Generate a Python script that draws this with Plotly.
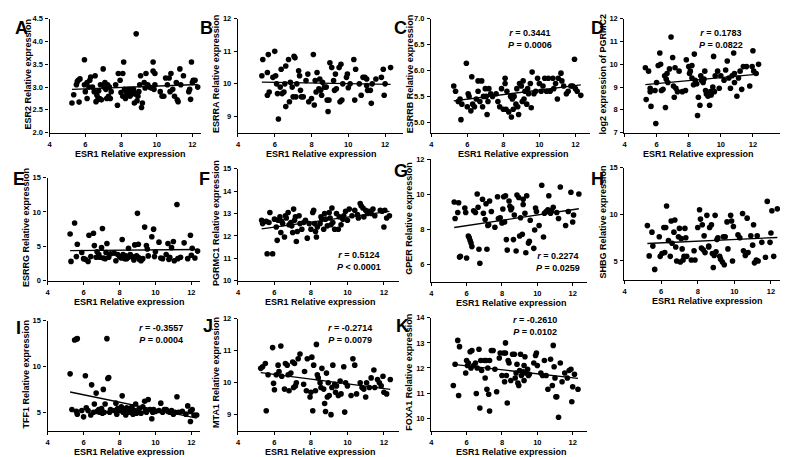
import numpy as np
import plotly.graph_objects as go

W, H = 788, 457

# ---------------- data ----------------
A_x = [5.25,5.35,5.5,5.55,5.6,5.65,5.7,5.95,5.95,6.0,6.1,6.1,6.2,6.25,6.3,6.4,6.5,6.55,6.6,6.65,6.7,6.75,6.8,6.85,6.9,7.0,7.05,7.1,7.15,7.2,7.25,7.3,7.35,7.4,7.45,7.7,7.8,7.85,7.95,8.0,8.1,8.1,8.15,8.2,8.25,8.3,8.35,8.4,8.45,8.5,8.55,8.6,8.65,8.7,8.75,8.8,8.85,8.9,8.95,9.0,9.05,9.1,9.15,9.2,9.3,9.35,9.4,9.5,9.6,9.7,9.8,9.8,9.85,9.9,9.9,10.2,10.3,10.4,10.5,10.6,10.7,10.75,10.8,10.9,11.0,11.1,11.15,11.2,11.3,11.35,11.5,11.8,11.85,11.9,11.95,12.0,12.05,12.15,12.3]
A_y = [2.65,2.83,3.05,3.12,3.15,2.67,3.18,3.6,3.05,2.9,3.1,2.75,3.0,3.15,3.22,3.0,2.9,3.25,2.68,2.82,2.72,2.92,2.75,3.05,2.72,3.4,3.0,3.1,2.95,2.75,3.05,2.8,3.0,2.75,2.9,3.05,2.6,3.3,3.15,2.88,3.3,2.8,3.55,2.95,2.75,2.9,2.85,2.95,2.9,2.8,2.95,2.85,2.9,2.95,2.65,2.85,4.17,2.7,2.8,2.9,3.05,3.25,2.55,2.65,3.1,2.98,3.3,3.05,3.0,2.98,3.55,3.35,2.95,3.3,3.05,2.9,2.8,2.8,3.2,3.05,3.2,2.9,3.3,2.95,2.8,3.1,2.72,2.68,3.4,3.05,3.25,2.9,2.95,2.73,3.55,3.1,3.15,3.15,3.0]

B_x = [5.3,5.35,5.6,5.6,5.65,5.7,5.9,6.0,6.05,6.1,6.15,6.2,6.3,6.35,6.4,6.5,6.55,6.6,6.6,6.75,6.8,6.85,6.95,7.0,7.05,7.1,7.15,7.2,7.3,7.35,7.4,7.45,7.55,7.7,7.8,7.85,8.0,8.1,8.15,8.2,8.25,8.3,8.4,8.5,8.55,8.6,8.7,8.8,8.85,8.9,8.95,9.0,9.1,9.2,9.25,9.3,9.35,9.5,9.55,9.6,9.65,9.7,9.9,9.95,10.0,10.1,10.3,10.35,10.4,10.6,10.7,10.8,10.9,11.0,11.05,11.2,11.25,11.3,11.5,11.8,11.9,11.95,12.0,12.3,11.0,8.45]
B_y = [10.25,10.75,10.35,9.65,10.9,9.75,10.2,11.0,10.25,10.0,9.7,8.92,9.9,10.45,9.7,9.75,10.0,10.55,9.3,10.75,9.45,10.05,9.9,9.6,10.85,10.8,9.6,10.0,10.4,10.25,9.8,9.6,9.6,10.1,10.3,9.45,9.55,10.9,9.35,10.1,9.75,10.35,9.85,9.8,9.65,10.05,9.9,9.9,9.5,9.15,9.5,10.65,10.5,10.1,9.8,10.3,9.85,10.5,9.45,10.6,9.5,10.0,10.2,10.3,9.88,10.0,10.75,9.5,10.45,10.0,9.65,10.2,10.2,10.15,9.8,9.8,9.4,10.0,10.15,10.2,10.45,9.65,10.0,10.5,9.95,10.15]

C_x = [5.25,5.35,5.5,5.6,5.65,5.7,5.95,6.0,6.05,6.1,6.2,6.25,6.3,6.4,6.5,6.6,6.6,6.7,6.8,6.85,6.9,7.0,7.05,7.1,7.15,7.2,7.3,7.4,7.6,7.7,7.8,7.9,8.0,8.1,8.1,8.15,8.2,8.3,8.4,8.45,8.5,8.55,8.6,8.7,8.75,8.8,8.85,8.9,9.0,9.05,9.1,9.15,9.2,9.3,9.4,9.5,9.55,9.6,9.7,9.8,9.9,10.0,10.2,10.3,10.4,10.5,10.6,10.75,10.8,10.9,11.0,11.05,11.2,11.25,11.35,11.5,11.6,11.75,11.85,11.95,12.0,12.1,12.3,10.1,9.35]
C_y = [5.7,5.6,5.4,5.45,5.05,5.35,6.14,5.3,5.55,5.5,5.22,5.88,5.35,5.3,5.45,5.6,5.8,5.4,5.8,5.3,5.5,5.65,5.5,5.15,5.4,5.65,5.55,5.5,5.55,5.4,5.3,5.65,5.25,5.85,5.75,5.25,5.6,5.2,5.5,5.1,5.45,5.25,5.5,5.35,5.65,5.3,5.15,5.75,5.7,5.4,5.8,5.45,5.6,5.35,5.55,5.75,5.28,5.97,5.55,5.6,5.85,5.75,5.7,5.85,5.6,5.85,5.6,5.85,5.65,5.75,5.45,5.85,5.95,5.8,5.7,5.55,5.6,5.7,5.7,6.22,5.65,5.6,5.52,5.6,5.65]

D_x = [5.3,5.35,5.5,5.6,5.6,5.65,5.9,5.95,6.0,6.1,6.2,6.25,6.3,6.4,6.5,6.55,6.6,6.65,6.7,6.8,6.9,7.0,7.05,7.1,7.15,7.2,7.3,7.4,7.6,7.8,7.85,8.0,8.05,8.1,8.2,8.3,8.35,8.4,8.5,8.55,8.6,8.7,8.75,8.8,8.9,8.95,9.0,9.05,9.1,9.2,9.3,9.35,9.4,9.5,9.55,9.65,9.8,9.9,10.0,10.2,10.3,10.4,10.5,10.6,10.7,10.8,10.85,11.0,11.1,11.2,11.3,11.4,11.6,11.8,11.95,12.0,12.05,12.2,12.35,9.6,8.2,10.85]
D_y = [9.85,8.45,9.7,8.95,8.8,8.15,8.85,7.4,9.2,9.95,10.5,10.0,8.85,8.9,9.5,8.1,9.35,9.6,9.2,9.8,11.2,10.3,9.05,8.55,9.85,8.95,8.8,9.7,8.8,8.85,10.2,9.9,9.6,9.7,9.4,9.1,10.45,9.3,9.15,7.75,8.55,8.2,9.5,9.3,9.2,9.35,9.7,8.85,8.7,8.6,8.2,8.8,8.65,9.0,10.35,9.5,9.7,8.95,9.5,9.3,9.75,10.15,9.4,8.95,9.5,10.5,9.2,8.6,9.4,9.7,8.9,9.9,9.9,9.05,9.9,10.6,9.7,9.6,10.0,8.8,9.95,9.6]

E_x = [5.25,5.3,5.5,5.6,5.65,5.9,6.0,6.1,6.25,6.3,6.4,6.55,6.6,6.7,6.75,6.85,6.9,7.0,7.05,7.1,7.2,7.25,7.3,7.4,7.7,7.8,7.9,8.0,8.1,8.15,8.2,8.3,8.35,8.4,8.5,8.5,8.6,8.7,8.8,8.85,9.0,9.05,9.1,9.2,9.3,9.4,9.5,9.55,9.6,9.8,9.9,9.95,10.0,10.2,10.4,10.6,10.7,10.75,10.8,10.9,11.0,11.05,11.2,11.25,11.4,11.6,11.8,11.95,12.0,12.05,12.2,12.35,9.05,8.95,7.5,10.3]
E_y = [6.8,2.8,8.4,3.5,5.3,4.1,3.2,3.1,2.8,6.6,3.5,6.9,5.1,3.4,4.2,3.8,3.4,4.8,7.6,3.3,3.2,4.1,5.4,3.4,4.0,2.9,3.8,3.5,3.3,6.0,3.8,3.2,3.6,3.2,3.4,4.7,3.8,3.5,3.0,5.2,9.8,5.3,3.1,2.9,3.2,7.8,5.1,4.6,3.6,6.4,7.5,3.5,4.2,5.6,3.2,3.8,5.4,3.1,3.4,4.8,5.7,2.9,11.1,3.2,3.4,5.5,3.2,6.6,3.7,4.7,3.3,4.3,3.4,3.6,3.9,3.3]

F_x = [5.3,5.35,5.55,5.6,5.7,5.75,5.9,6.0,6.1,6.15,6.2,6.3,6.35,6.45,6.55,6.6,6.65,6.75,6.8,6.9,6.95,7.0,7.05,7.1,7.2,7.25,7.35,7.4,7.5,7.6,7.7,7.8,7.9,8.0,8.1,8.15,8.2,8.25,8.3,8.35,8.5,8.55,8.6,8.7,8.8,8.9,9.0,9.05,9.1,9.15,9.2,9.3,9.4,9.5,9.55,9.65,9.8,9.9,10.0,10.1,10.25,10.4,10.55,10.7,10.75,10.85,10.9,11.0,11.1,11.2,11.3,11.4,11.5,11.8,11.9,12.0,12.05,12.15,12.3,10.6,9.75,8.75,7.15,6.4]
F_y = [12.7,12.55,12.65,11.2,12.6,13.05,11.2,12.75,12.4,11.8,12.7,12.85,12.15,12.55,11.95,12.9,12.8,13.05,12.5,12.6,12.45,12.15,13.2,12.7,11.75,12.2,12.9,12.55,12.3,12.6,12.7,11.9,12.55,12.3,13.05,13.15,12.55,12.2,11.95,12.4,12.55,12.85,12.75,12.3,12.75,12.45,13.05,12.8,12.5,13.25,12.6,12.3,13.0,12.3,12.85,12.5,12.9,13.1,12.7,13.2,12.9,13.15,12.95,13.45,13.35,13.25,12.85,13.15,13.0,13.1,13.0,13.2,12.9,13.15,13.1,12.4,13.15,12.8,12.9,12.8,12.75,13.0,12.85,12.65]

G_x = [5.3,5.35,5.5,5.55,5.6,5.65,5.9,5.95,6.0,6.1,6.15,6.2,6.25,6.3,6.4,6.5,6.6,6.65,6.7,6.75,6.9,6.95,7.05,7.1,7.15,7.2,7.25,7.3,7.4,7.6,7.75,7.8,7.9,8.0,8.05,8.1,8.2,8.25,8.3,8.4,8.45,8.5,8.55,8.65,8.7,8.8,8.85,8.95,9.0,9.05,9.15,9.2,9.3,9.35,9.4,9.5,9.55,9.6,9.8,9.85,9.9,9.95,10.1,10.25,10.35,10.4,10.6,10.65,10.75,10.8,10.9,11.1,11.2,11.3,11.6,11.75,11.9,12.0,12.05,12.35,9.2,8.15,10.5]
G_y = [9.55,8.6,8.95,9.5,6.4,6.45,9.2,8.95,6.35,7.6,7.5,7.35,7.2,7.0,9.05,8.95,10.0,9.25,6.85,6.05,9.7,8.9,8.55,9.45,6.85,8.2,8.25,9.6,9.0,8.1,9.85,8.6,8.65,8.35,9.15,9.85,9.9,7.4,6.8,9.6,9.3,9.1,9.2,7.4,8.8,6.75,9.95,9.8,7.6,8.65,7.7,9.4,8.9,6.65,9.9,7.2,7.3,8.5,6.9,7.95,9.2,9.0,8.2,10.5,7.55,8.9,9.1,9.9,8.9,9.05,9.25,8.95,8.6,10.4,8.2,9.0,10.1,8.4,8.8,10.0,9.7,8.4,9.0]

H_x = [5.25,5.35,5.5,5.55,5.65,5.9,5.95,6.05,6.15,6.2,6.25,6.3,6.4,6.5,6.55,6.6,6.7,6.75,6.8,6.85,6.95,7.0,7.05,7.1,7.15,7.2,7.25,7.3,7.35,7.4,7.65,7.8,7.85,8.0,8.1,8.15,8.2,8.25,8.3,8.35,8.4,8.5,8.6,8.65,8.75,8.8,8.85,8.9,8.95,9.0,9.05,9.1,9.2,9.25,9.35,9.45,9.5,9.6,9.65,9.8,9.85,9.9,9.95,10.2,10.3,10.45,10.5,10.6,10.7,10.75,10.9,11.0,11.05,11.1,11.2,11.25,11.3,11.5,11.7,11.8,11.95,12.0,12.05,12.15,12.35,8.6,9.4]
H_y = [8.8,5.55,8.1,6.6,4.1,7.6,5.5,5.8,8.6,5.9,8.6,10.9,7.2,5.5,9.3,6.9,8.1,9.4,6.5,5.0,7.6,8.5,4.9,7.4,6.3,5.1,5.5,8.5,7.5,5.5,5.1,6.1,5.1,8.6,10.5,9.5,6.4,8.9,6.2,7.7,5.9,9.9,6.6,8.6,8.9,5.8,4.3,5.6,9.9,6.0,7.3,7.5,5.5,5.2,4.9,4.6,7.6,9.2,6.3,9.9,9.3,5.0,8.7,7.8,7.5,10.1,6.1,5.6,9.6,5.9,7.7,6.7,8.9,4.8,5.1,7.7,5.0,7.0,5.4,11.4,7.0,8.0,10.4,5.5,10.6,6.5,7.6]

I_x = [5.25,5.35,5.5,5.6,5.65,5.6,5.65,5.9,6.0,6.1,6.15,6.25,6.4,6.45,6.55,6.6,6.7,6.75,6.85,6.9,7.0,7.05,7.1,7.15,7.2,7.3,7.35,7.4,7.45,7.5,7.7,7.8,7.85,7.9,8.0,8.1,8.15,8.2,8.3,8.35,8.4,8.5,8.55,8.6,8.7,8.75,8.85,8.9,8.95,9.0,9.1,9.2,9.3,9.4,9.45,9.5,9.6,9.7,9.8,9.85,9.9,10.0,10.2,10.3,10.4,10.6,10.7,10.8,10.9,11.0,11.1,11.2,11.3,11.5,11.7,11.8,11.95,12.05,12.15,12.3,11.95,10.5]
I_y = [9.2,5.3,12.9,13.0,13.05,5.1,4.8,5.2,4.5,9.0,5.5,5.2,4.7,8.0,5.0,5.9,7.1,5.1,5.3,5.0,5.4,4.9,7.5,5.0,5.9,13.05,8.7,8.8,5.0,5.3,5.2,6.0,4.8,5.4,5.2,5.6,6.8,5.0,5.3,4.7,5.5,5.2,5.0,5.4,5.6,4.8,5.2,5.9,4.9,5.1,5.4,4.9,5.6,6.2,5.2,5.0,6.4,5.3,4.3,5.0,5.3,5.1,5.2,6.0,5.0,5.3,5.1,5.0,5.2,4.8,5.0,6.7,5.0,5.1,4.8,5.7,4.0,5.3,4.7,4.7,5.1,5.3]

J_x = [5.25,5.35,5.5,5.55,5.65,5.9,5.95,6.0,6.1,6.2,6.25,6.35,6.4,6.55,6.6,6.7,6.75,6.8,6.9,7.0,7.05,7.1,7.15,7.2,7.3,7.4,7.6,7.75,7.8,7.95,8.0,8.05,8.1,8.15,8.25,8.3,8.35,8.4,8.5,8.55,8.6,8.7,8.75,8.8,8.85,8.9,8.95,9.0,9.1,9.15,9.2,9.3,9.4,9.5,9.6,9.65,9.8,9.85,9.9,10.0,10.2,10.3,10.4,10.5,10.7,10.8,10.9,11.0,11.05,11.2,11.3,11.45,11.5,11.65,11.75,11.85,11.95,12.0,12.15,12.35,7.65,9.35]
J_y = [10.45,10.5,10.6,9.12,10.25,11.1,9.98,9.78,10.25,10.55,10.35,11.15,10.2,9.8,10.6,10.55,10.25,9.75,10.3,10.65,9.85,10.6,9.9,10.0,10.75,10.9,9.95,9.75,10.75,9.55,9.7,10.8,9.12,10.55,9.75,11.2,10.25,10.15,10.0,9.85,10.45,9.8,9.35,9.1,10.3,9.55,10.0,9.6,9.0,9.85,10.55,9.95,9.9,9.6,10.05,9.65,10.5,9.08,10.0,9.9,9.6,10.75,10.55,9.65,10.0,9.85,9.8,9.55,10.0,9.85,10.15,10.4,9.85,10.1,10.0,9.9,10.2,9.7,9.65,10.1,10.35,9.7]

K_x = [5.25,5.35,5.5,5.55,5.6,5.95,6.0,6.05,6.1,6.2,6.25,6.3,6.4,6.5,6.55,6.6,6.7,6.75,6.8,6.85,7.0,7.05,7.1,7.15,7.2,7.25,7.3,7.3,7.4,7.5,7.6,7.7,7.85,7.9,8.0,8.1,8.15,8.2,8.25,8.3,8.35,8.4,8.5,8.6,8.7,8.75,8.8,8.85,8.9,8.95,9.0,9.05,9.1,9.2,9.25,9.3,9.35,9.45,9.5,9.55,9.8,9.9,9.95,10.0,10.2,10.3,10.4,10.5,10.6,10.75,10.85,10.9,10.95,11.0,11.05,11.1,11.2,11.3,11.4,11.55,11.7,11.8,11.9,11.95,12.0,12.1,12.3,9.25,8.2]
K_y = [11.3,12.15,13.1,10.9,12.85,11.8,12.3,12.1,12.2,12.65,12.0,12.7,12.1,12.2,10.98,12.0,12.75,10.4,12.3,11.9,12.3,11.6,12.3,11.15,12.0,10.95,12.3,10.28,12.7,12.7,11.95,11.05,12.4,12.6,11.7,12.6,11.45,13.0,11.7,10.6,12.3,12.2,11.5,12.55,12.55,11.6,11.8,12.15,11.4,11.3,11.9,12.55,11.7,11.85,11.5,12.45,11.8,11.95,11.7,11.75,12.2,12.5,12.6,12.1,11.8,11.7,12.3,11.7,11.15,12.35,11.3,12.9,12.05,11.6,10.85,10.85,10.03,12.2,11.45,11.8,11.6,11.9,11.95,10.65,11.25,11.75,11.15,12.1,12.6]

y_titles = {
    "A": "ESR2 Relative expression", "B": "ESRRA Relative expression",
    "C": "ESRRB Relative expression", "D": "log2 expression of PGRMC2",
    "E": "ESRRG Relative expression", "F": "PGRMC1 Relative expression",
    "G": "GPER Relative expression", "H": "SHBG Relative expression",
    "I": "TFF1 Relative expression", "J": "MTA1 Relative expression",
    "K": "FOXA1 Relative expression",
}
x_title = "ESR1 Relative expression"
stats = {"C": ("0.3441", "= 0.0006"), "D": ("0.1783", "= 0.0822"),
         "F": ("0.5124", "< 0.0001"), "G": ("0.2274", "= 0.0259"),
         "I": ("-0.3557", "= 0.0004"), "J": ("-0.2714", "= 0.0079"),
         "K": ("-0.2610", "= 0.0102")}
x_ticks = [4, 6, 8, 10, 12]
x_ticks_D = [4, 6, 8, 10, 12, 14]
y_ticks = {"A": [2.0, 2.5, 3.0, 3.5, 4.0, 4.5], "B": [9, 10, 11, 12],
           "C": [5.0, 5.5, 6.0, 6.5, 7.0], "D": [7, 8, 9, 10, 11, 12],
           "E": [0, 5, 10, 15], "F": [10, 11, 12, 13, 14, 15],
           "G": [6, 8, 10, 12], "H": [5, 10, 15], "I": [5, 10, 15],
           "J": [9, 10, 11, 12], "K": [10, 11, 12, 13, 14]}

# ---------------- layout (pixels) ----------------
panels = {
    "A": dict(xd=(40, 193), yd=(7, 123), xr=[4, 12.5], yr=[2.0, 4.5], lp=(3, 4)),
    "B": dict(xd=(230, 397), yd=(7, 123), xr=[4, 13], yr=[8.5, 12], lp=(190, 4)),
    "C": dict(xd=(425, 585), yd=(7, 123), xr=[4, 12.8], yr=[4.8, 7.0], lp=(385, 4), sp=(525, 28)),
    "D": dict(xd=(620, 782), yd=(7, 123), xr=[4, 14], yr=[7, 12], lp=(584, 4), sp=(717, 28)),
    "E": dict(xd=(38, 192), yd=(169, 274), xr=[4, 12.5], yr=[0, 15], lp=(1, 158)),
    "F": dict(xd=(230, 392), yd=(160, 274), xr=[4, 12.8], yr=[10, 15], lp=(189, 158), sp=(352, 254)),
    "G": dict(xd=(425, 582), yd=(150, 275), xr=[4, 12.8], yr=[5, 12], lp=(385, 150), sp=(553, 255)),
    "H": dict(xd=(620, 777), yd=(159, 273), xr=[4, 12.5], yr=[3, 15], lp=(584, 158)),
    "I": dict(xd=(38, 192), yd=(315, 427), xr=[4, 12.5], yr=[3, 15], lp=(4, 310), sp=(152, 328)),
    "J": dict(xd=(230, 392), yd=(313, 427), xr=[4, 12.8], yr=[8.5, 12], lp=(193, 308), sp=(343, 328)),
    "K": dict(xd=(425, 582), yd=(312, 427), xr=[4, 12.8], yr=[9.5, 14], lp=(387, 308), sp=(530, 320)),
}
data = {"A": (A_x, A_y), "B": (B_x, B_y), "C": (C_x, C_y), "D": (D_x, D_y),
        "E": (E_x, E_y), "F": (F_x, F_y), "G": (G_x, G_y), "H": (H_x, H_y),
        "I": (I_x, I_y), "J": (J_x, J_y), "K": (K_x, K_y)}

FONT = "Liberation Sans, Arial, sans-serif"
px = lambda v: v / W
py = lambda v: 1 - v / H

fig = go.Figure()
annotations = []
for i, (key, p) in enumerate(panels.items(), start=1):
    xa = "x" if i == 1 else f"x{i}"
    ya = "y" if i == 1 else f"y{i}"
    xs, ys = data[key]
    fig.add_trace(go.Scatter(x=xs, y=ys, mode="markers", xaxis=xa, yaxis=ya,
                             marker=dict(color="black", size=5.6), showlegend=False,
                             cliponaxis=False))
    slope, icpt = np.polyfit(xs, ys, 1)
    lx = [min(xs), max(xs)]
    fig.add_trace(go.Scatter(x=lx, y=[slope * v + icpt for v in lx], mode="lines",
                             xaxis=xa, yaxis=ya, line=dict(color="black", width=1.3),
                             showlegend=False))
    axis_common = dict(showline=True, linecolor="black", linewidth=1.4, ticks="outside",
                       ticklen=3, tickwidth=1.2, tickcolor="black", showgrid=False,
                       zeroline=False, ticklabelstandoff=1,
                       tickfont=dict(family=FONT, size=7.5, color="black", weight="bold"))
    xk = "xaxis" if i == 1 else f"xaxis{i}"
    yk = "yaxis" if i == 1 else f"yaxis{i}"
    fig.update_layout({
        xk: dict(domain=[px(p["xd"][0]), px(p["xd"][1])], range=p["xr"], anchor=ya,
                 tickvals=x_ticks_D if key == "D" else x_ticks, **axis_common),
        yk: dict(domain=[py(p["yd"][1]), py(p["yd"][0])], range=p["yr"], anchor=xa,
                 tickvals=y_ticks[key],
                 tickformat=".1f" if key in ("A", "C") else "d", **axis_common),
    })
    annotations.append(dict(text=f"<b>{key}</b>", x=px(p["lp"][0]), y=py(p["lp"][1]),
                            xref="paper", yref="paper", xanchor="left", yanchor="top",
                            showarrow=False, font=dict(family=FONT, size=18, color="black")))
    xc = (p["xd"][0] + (p["xd"][0] + (12 - 4) / (p["xr"][1] - p["xr"][0]) * (p["xd"][1] - p["xd"][0]))) / 2
    annotations.append(dict(text=f"<b>{x_title}</b>", x=px(xc + 10), y=py(p["yd"][1] + 22),
                            xref="paper", yref="paper", xanchor="center", yanchor="middle",
                            showarrow=False, font=dict(family=FONT, size=9, color="black")))
    annotations.append(dict(text=f"<b>{y_titles[key]}</b>", x=px(p["xd"][0] - 22),
                            y=py((p["yd"][0] + p["yd"][1]) / 2 - 2),
                            xref="paper", yref="paper", xanchor="center", yanchor="middle",
                            textangle=-90, showarrow=False,
                            font=dict(family=FONT, size=9, color="black")))
    if key in stats:
        r, pv = stats[key]
        annotations.append(dict(text=f"<b><i>r</i> = {r}<br><i>P</i> {pv}</b>",
                                x=px(p["sp"][0]), y=py(p["sp"][1]), xref="paper", yref="paper",
                                xanchor="center", yanchor="middle", showarrow=False,
                                font=dict(family=FONT, size=9, color="black")))

fig.update_layout(width=W, height=H, margin=dict(l=0, r=0, t=0, b=0),
                  paper_bgcolor="white", plot_bgcolor="white",
                  annotations=annotations)
fig.write_html("out.html")
